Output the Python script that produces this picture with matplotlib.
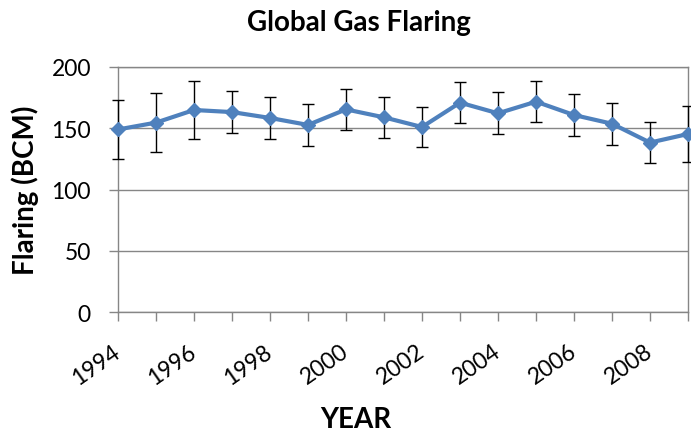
import matplotlib
matplotlib.use("Agg")
import matplotlib.pyplot as plt
from matplotlib.transforms import ScaledTranslation

years = list(range(1994, 2010))
flaring = [149, 154.6, 164.9, 163.2, 158.4, 152.7, 165.4, 158.9, 151, 170.9, 162.2, 171.7, 160.8, 153.7, 138.3, 145.3]
errors = [24, 24, 24, 17, 17, 17, 17, 17, 16.5, 17, 17, 17, 17, 17, 17, 23]
tick_labels = [str(y) for y in range(1994, 2010, 2)]

plt.rcParams['font.family'] = ['Lato', 'DejaVu Sans']

W, H = 691, 435
fig = plt.figure(figsize=(W/100, H/100), dpi=100)
ax = fig.add_axes([118/W, 1-313/H, (688-118)/W, (313-68)/H])

grid_c = '#868686'
ax.errorbar(years, flaring, yerr=errors, color='#4F81BD', lw=3, marker='D', ms=7,
            ecolor='black', elinewidth=1, capsize=4, capthick=1, zorder=3, clip_on=False)

ax.set_xlim(1994, 2009)
ax.set_ylim(0, 200)
ax.set_yticks([0, 50, 100, 150, 200])
ax.set_xticks(years, minor=True)
ax.set_xticks(list(range(1994, 2010, 2)))
ax.set_xticklabels(tick_labels, rotation=35, ha='right', va='center', rotation_mode='anchor')
shift = ScaledTranslation(4/100, 0, fig.dpi_scale_trans)
for lbl in ax.get_xticklabels():
    lbl.set_transform(lbl.get_transform() + shift)
ax.yaxis.grid(True, color=grid_c, lw=1)
ax.set_axisbelow(True)
for s in ax.spines.values():
    s.set_color(grid_c)
    s.set_linewidth(1)
ax.tick_params(axis='both', which='both', color=grid_c, length=6.5, width=1, direction='out', labelsize=16.5)
ax.tick_params(axis='x', which='major', pad=20)
ax.tick_params(axis='y', pad=13)

fig.text(359/W, 1-23/H, 'Global Gas Flaring', fontsize=20, fontweight='bold', ha='center', va='center')
fig.text(25/W, 1-190/H, 'Flaring (BCM)', fontsize=20, fontweight='bold', ha='center', va='center', rotation=90)
fig.text(356/W, 1-420/H, 'YEAR', fontsize=20, fontweight='bold', ha='center', va='center')

fig.savefig('out.png', dpi=100)
